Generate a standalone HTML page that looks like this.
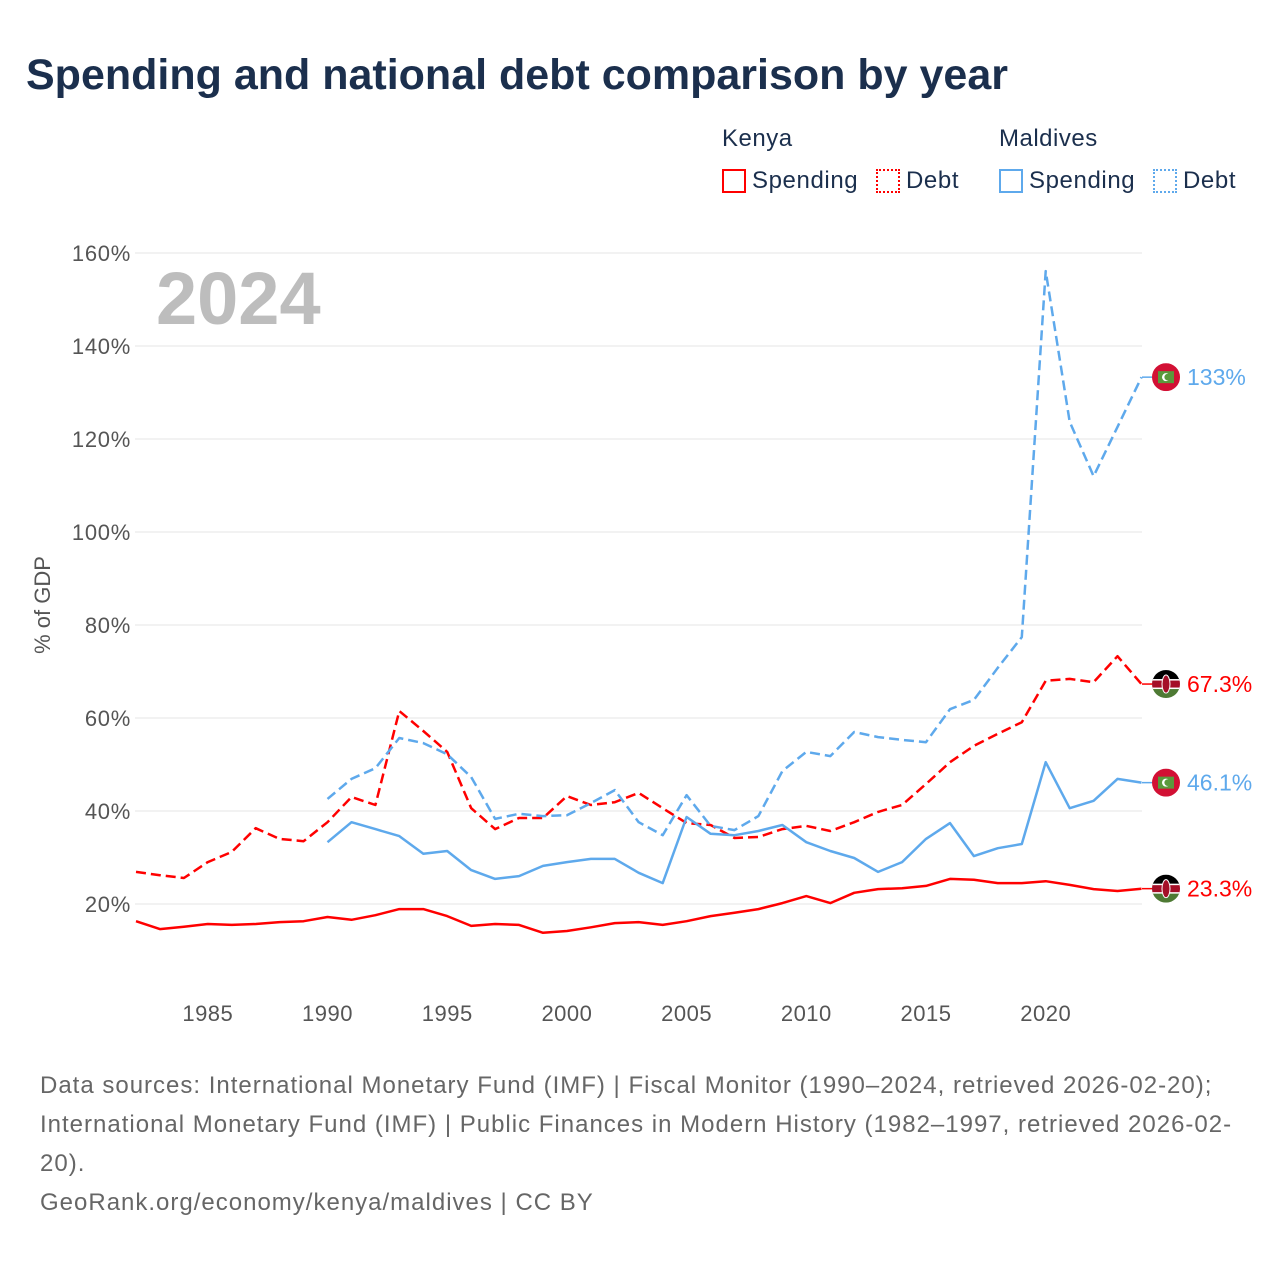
<!DOCTYPE html>
<html><head><meta charset="utf-8">
<style>
body{margin:0;background:#fff;font-family:"Liberation Sans",sans-serif;}
#wrap{position:relative;width:1280px;height:1280px;overflow:hidden;}
.t{position:absolute;white-space:nowrap;}
</style></head>
<body>
<div id="wrap">
<div class="t" style="left:26px;top:51px;font-size:43px;font-weight:bold;color:#1b2f4d;">Spending and national debt comparison by year</div>
<div class="t" style="left:722px;top:125px;font-size:24px;color:#1b2f4d;letter-spacing:0.5px">Kenya</div>
<div class="t" style="left:999px;top:125px;font-size:24px;color:#1b2f4d;letter-spacing:0.5px">Maldives</div>
<div class="t" style="left:722px;top:167px;font-size:24px;color:#1b2f4d;letter-spacing:0.6px"><span style="display:inline-block;width:24px;height:24px;border:2px solid #f00;vertical-align:-5px;margin-right:6px;box-sizing:border-box"></span>Spending</div>
<div class="t" style="left:876px;top:167px;font-size:24px;color:#1b2f4d;letter-spacing:0.6px"><span style="display:inline-block;width:24px;height:24px;border:2px dotted #f00;vertical-align:-5px;margin-right:6px;box-sizing:border-box"></span>Debt</div>
<div class="t" style="left:999px;top:167px;font-size:24px;color:#1b2f4d;letter-spacing:0.6px"><span style="display:inline-block;width:24px;height:24px;border:2px solid #5ea9ec;vertical-align:-5px;margin-right:6px;box-sizing:border-box"></span>Spending</div>
<div class="t" style="left:1153px;top:167px;font-size:24px;color:#1b2f4d;letter-spacing:0.6px"><span style="display:inline-block;width:24px;height:24px;border:2px dotted #5ea9ec;vertical-align:-5px;margin-right:6px;box-sizing:border-box"></span>Debt</div>
<svg id="chart" width="1280" height="1280" style="position:absolute;left:0;top:0"></svg>
<div class="t" style="left:40px;top:1066px;font-size:24px;color:#666;line-height:39px;letter-spacing:1px;">Data sources: International Monetary Fund (IMF) | Fiscal Monitor (1990–2024, retrieved 2026-02-20);<br>International Monetary Fund (IMF) | Public Finances in Modern History (1982–1997, retrieved 2026-02-<br>20).<br>GeoRank.org/economy/kenya/maldives | CC BY</div>
</div>
<script>
const years=[];for(let y=1982;y<=2024;y++)years.push(y);
const kenyaSpending=[16.3,14.6,15.1,15.7,15.5,15.7,16.1,16.3,17.2,16.6,17.6,18.9,18.9,17.4,15.3,15.7,15.5,13.8,14.2,15.0,15.9,16.1,15.5,16.3,17.4,18.1,18.9,20.2,21.7,20.2,22.4,23.2,23.4,23.9,25.4,25.2,24.5,24.5,24.9,24.1,23.2,22.8,23.3];
const kenyaDebt=[26.9,26.2,25.6,29.0,31.2,36.3,34.0,33.5,37.6,43.0,41.3,61.5,57.2,52.7,40.6,36.1,38.5,38.5,43.2,41.3,41.9,43.9,40.6,37.4,37.0,34.2,34.4,36.1,36.8,35.7,37.6,39.8,41.3,45.8,50.5,54.0,56.6,59.1,68.0,68.4,67.7,73.3,67.3];
const maldivesSpending=[null,null,null,null,null,null,null,null,33.3,37.6,36.1,34.6,30.8,31.4,27.3,25.4,26.0,28.2,29.0,29.7,29.7,26.7,24.5,38.7,35.1,34.8,35.7,37.0,33.3,31.4,29.9,26.9,29.0,34.0,37.4,30.3,32.0,32.9,50.5,40.6,42.2,46.9,46.1];
const maldivesDebt=[null,null,null,null,null,null,null,null,42.6,46.9,49.2,55.7,54.6,52.2,47.3,38.3,39.4,38.9,39.1,41.7,44.5,37.6,34.8,43.4,36.8,35.9,38.9,48.6,52.7,51.8,57.0,55.9,55.3,54.8,61.9,63.9,70.8,77.4,156.1,123.7,112.0,122.6,133.3];
const yTicks=[20,40,60,80,100,120,140,160];
const xTicks=[1985,1990,1995,2000,2005,2010,2015,2020];
const endLabels=["23.3%","67.3%","46.1%","133%"];

const NS="http://www.w3.org/2000/svg";
const svg=document.getElementById('chart');
const X=y=>136+(y-1982)*23.94;
const Y=v=>997-v*4.65;
function el(t,a,p){const e=document.createElementNS(NS,t);for(const k in a)e.setAttribute(k,a[k]);(p||svg).appendChild(e);return e;}
yTicks.forEach(v=>{
 const g=el('line',{x1:135,x2:1142,y1:Y(v),y2:Y(v),stroke:'#e6e6e6','stroke-width':1});
 
 
 const t=el('text',{x:131,y:Y(v)+8,'text-anchor':'end','font-size':22,fill:'#555','font-family':'Liberation Sans','letter-spacing':0.7});
 t.textContent=v+'%';
 
 
});
xTicks.forEach(yr=>{
 const t=el('text',{x:X(yr),y:1021,'text-anchor':'middle','font-size':22,fill:'#555','font-family':'Liberation Sans','letter-spacing':0.5});
 t.textContent=yr;
 
 
});
const yt=el('text',{x:0,y:0,transform:'translate(50,605) rotate(-90)','text-anchor':'middle','font-size':22,fill:'#555','font-family':'Liberation Sans'});
yt.textContent='% of GDP';


const big=el('text',{x:156,y:324,'font-size':74,'font-weight':'bold',fill:'#bdbdbd','font-family':'Liberation Sans'});
big.textContent='2024';



function line(vals,color,dash,name){
 let d='';let pen=false;
 vals.forEach((v,i)=>{if(v==null){pen=false;return;}d+=(pen?'L':'M')+X(years[i]).toFixed(1)+','+Y(v).toFixed(1);pen=true;});
 const p=el('path',{d:d,fill:'none',stroke:color,'stroke-width':2.5,'stroke-linejoin':'round'});
 if(dash)p.setAttribute('stroke-dasharray','10,5');
 
 
}
line(kenyaSpending,'#ff0000',false,'kenya-spending-line');
line(kenyaDebt,'#ff0000',true,'kenya-debt-line');
line(maldivesSpending,'#5ea9ec',false,'maldives-spending-line');
line(maldivesDebt,'#5ea9ec',true,'maldives-debt-line');

function flag(cy,kenya,name){
 const g=el('g',{});
 
 
 const cx=1166,r=14;
 const id='c'+Math.round(cy);
 const cp=el('clipPath',{id:id},g);el('circle',{cx:cx,cy:cy,r:r},cp);
 const gg=el('g',{'clip-path':'url(#'+id+')'},g);
 if(kenya){
  el('rect',{x:cx-r,y:cy-r,width:2*r,height:10,fill:'#000'},gg);
  el('rect',{x:cx-r,y:cy-r+10,width:2*r,height:8,fill:'#a50f28'},gg);
  el('rect',{x:cx-r,y:cy+4,width:2*r,height:10,fill:'#4e7a34'},gg);
  el('rect',{x:cx-r,y:cy-r+9,width:2*r,height:1.5,fill:'#fff'},gg);
  el('rect',{x:cx-r,y:cy+3.5,width:2*r,height:1.5,fill:'#fff'},gg);
  el('ellipse',{cx:cx,cy:cy,rx:4,ry:9,fill:'#a50f28',stroke:'#fff','stroke-width':1},gg);
 }else{
  el('rect',{x:cx-r,y:cy-r,width:2*r,height:2*r,fill:'#d21034'},gg);
  el('rect',{x:cx-8,y:cy-6,width:16,height:12,fill:'#5a9a3c'},gg);
  el('circle',{cx:cx,cy:cy,r:4,fill:'#fff'},gg);
  el('circle',{cx:cx+1.8,cy:cy,r:3.4,fill:'#5a9a3c'},gg);
 }
}
const ends=[[kenyaSpending,'#ff0000',true],[kenyaDebt,'#ff0000',true],[maldivesSpending,'#5ea9ec',false],[maldivesDebt,'#5ea9ec',false]];
ends.forEach((e,i)=>{
 const v=e[0][e[0].length-1];const cy=Y(v);
 const c=el('line',{x1:1142,x2:1152,y1:cy,y2:cy,stroke:e[1],'stroke-width':1.5});
 
 
 flag(cy,e[2],(e[2]?'kenya':'maldives')+'-flag-marker');
 const t=el('text',{x:1187,y:cy+8,'font-size':23,fill:e[1],'font-family':'Liberation Sans'});
 t.textContent=endLabels[i];
 
 
});
</script>
</body></html>
